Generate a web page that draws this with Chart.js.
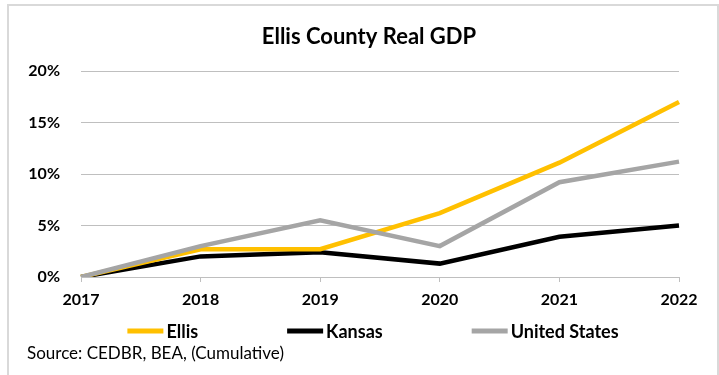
<!DOCTYPE html>
<html>
<head>
<meta charset="utf-8">
<script src="https://cdn.jsdelivr.net/npm/chart.js@4"></script>
<style>
  html, body { margin: 0; padding: 0; background: #fff; }
  #wrap { width: 719px; height: 375px; }
</style>
</head>
<body>
<div id="wrap"><canvas id="gdpChart" width="719" height="375"></canvas></div>
<script>
const years = ['2017', '2018', '2019', '2020', '2021', '2022'];
const ellis = [0, 2.7, 2.7, 6.2, 11.1, 17.0];
const kansas = [0, 2.0, 2.4, 1.3, 3.9, 5.0];
const unitedStates = [0, 3.0, 5.5, 3.0, 9.2, 11.2];
const chartTitle = 'Ellis County Real GDP';
const sourceNote = 'Source: CEDBR, BEA, (Cumulative)';

const FONT = 'Lato';

// frame, title, legend and source line
const decor = {
    id: 'decor',
    beforeDraw(chart) {
        const ctx = chart.ctx;
        ctx.save();
        ctx.fillStyle = '#fff';
        ctx.fillRect(0, 0, chart.width, chart.height);
        ctx.strokeStyle = '#d9d9d9';
        ctx.lineWidth = 2;
        ctx.strokeRect(8, 5, 710, 400);
        ctx.restore();
    },
    afterDraw(chart) {
        const ctx = chart.ctx;
        ctx.save();
        ctx.fillStyle = '#000';
        ctx.textBaseline = 'middle';
        ctx.textAlign = 'center';
        ctx.font = 'bold 22px ' + FONT;
        ctx.fillText(chartTitle, 369, 37);

        ctx.textAlign = 'left';
        ctx.font = 'bold 18px ' + FONT;
        const sets = chart.data.datasets;
        const lineLen = 36, textGap = 3, itemGap = 89;
        let total = 0;
        sets.forEach(ds => { total += lineLen + textGap + ctx.measureText(ds.label).width; });
        total += itemGap * (sets.length - 1);
        let x = 373 - total / 2;
        const y = 331;
        sets.forEach(ds => {
            ctx.strokeStyle = ds.borderColor;
            ctx.lineWidth = 5;
            ctx.beginPath();
            ctx.moveTo(x, y);
            ctx.lineTo(x + lineLen, y);
            ctx.stroke();
            x += lineLen + textGap;
            ctx.fillText(ds.label, x, y + 1);
            x += ctx.measureText(ds.label).width + itemGap;
        });
        ctx.font = '17px ' + FONT;
        ctx.fillText(sourceNote, 27, 354);
        ctx.restore();
    }
};

const line = (label, d, color, order) => ({
    label: label,
    data: d,
    borderColor: color,
    backgroundColor: color,
    borderWidth: 4.5,
    pointRadius: 0,
    tension: 0,
    order: order
});

new Chart(document.getElementById('gdpChart').getContext('2d'), {
    type: 'line',
    data: {
        labels: years,
        datasets: [
            line('Ellis', ellis, '#FFC000', 1),
            line('Kansas', kansas, '#000000', 2),
            line('United States', unitedStates, '#A5A5A5', 0)
        ]
    },
    options: {
        responsive: false,
        animation: false,
        layout: { padding: { top: 71, left: 8, right: 40, bottom: 60 } },
        plugins: {
            legend: { display: false },
            tooltip: { enabled: false },
            title: { display: false }
        },
        scales: {
            x: {
                offset: false,
                afterFit: s => { s.height = 38; },
                grid: { drawOnChartArea: false, drawTicks: true, tickLength: 5, color: '#bfbfbf' },
                border: { display: true, color: '#bfbfbf', width: 1 },
                ticks: { color: '#000', font: { family: FONT, size: 16, weight: 'bold' }, padding: 8, maxRotation: 0 }
            },
            y: {
                min: 0,
                max: 20,
                afterFit: s => { s.width = 73; },
                grid: { color: '#bfbfbf', drawTicks: false },
                border: { display: false },
                ticks: {
                    stepSize: 5,
                    color: '#000',
                    padding: 21,
                    font: { family: FONT, size: 16, weight: 'bold' },
                    callback: v => v + '%'
                }
            }
        }
    },
    plugins: [decor]
});
</script>
</body>
</html>
